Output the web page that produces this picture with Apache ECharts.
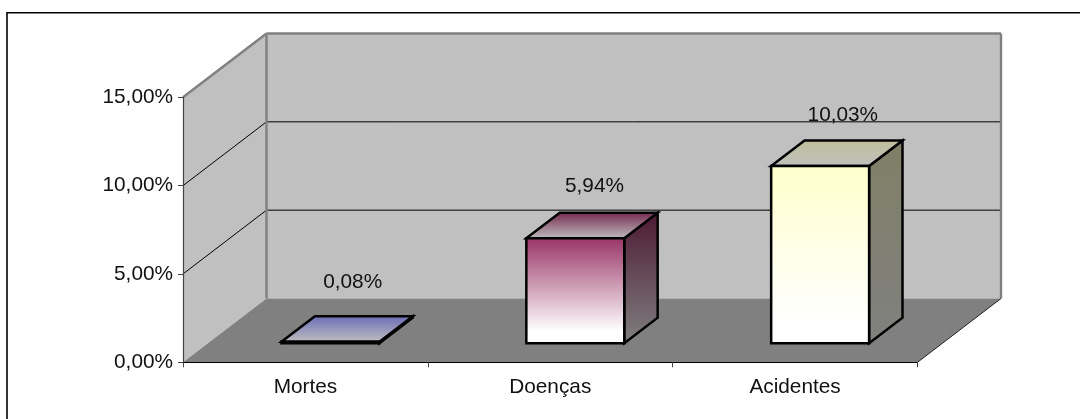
<!DOCTYPE html>
<html><head><meta charset="utf-8">
<style>html,body{margin:0;padding:0;background:#fff}#c{width:1080px;height:419px}</style>
<script src="https://cdn.jsdelivr.net/npm/echarts@6/dist/echarts.min.js"></script>
</head><body><div id="c"></div>
<script>
const categories = ['Mortes', 'Doenças', 'Acidentes'];
const values = [0.08, 5.94, 10.03];
const valueLabels = ['0,08%', '5,94%', '10,03%'];
const gridTicks = [5, 10];
const faceFront = [['#9999ee', '#c8c8d8'], ['#993366', '#ffffff'], ['#ffffcc', '#ffffff']];
const faceTop = [['#6a6ab8', '#c0c0c0'], ['#73264d', '#c0c0c0'], ['#bfbf99', '#c0c0c0']];
const faceSide = [['#4d4d80', '#808080'], ['#4d1933', '#808080'], ['#808066', '#808080']];
const labelNudge = [[5.5, -46.5], [2.5, -39.5], [6, -38]];

const DX = 83.5, DY = -63.8;
const font = '"Liberation Sans", Arial, sans-serif';
const fs = 20.8;
function grad(c, end) { return { type: 'linear', x: 0, y: 0, x2: 0, y2: 1, colorStops: [{ offset: 0, color: c[0] }, { offset: end || 1, color: c[1] }, { offset: 1, color: c[1] }] }; }
function poly(pts, fill, stroke, lw) {
  return { type: 'polygon', shape: { points: pts }, style: { fill: fill, stroke: stroke || null, lineWidth: lw || 0, lineJoin: 'miter' } };
}
function line(a, b, stroke, lw) {
  return { type: 'line', shape: { x1: a[0], y1: a[1], x2: b[0], y2: b[1] }, style: { stroke: stroke, lineWidth: lw, fill: null } };
}

function renderWalls(params, api) {
  const w = api.size([1, 0])[0];
  const x0 = api.coord([0, 0])[0] - w / 2, x1 = api.coord([2, 0])[0] + w / 2;
  const y0 = api.coord([0, 0])[1], y15 = api.coord([0, 15])[1];
  const o = (x, y) => [x + DX, y + DY];
  const kids = [
    poly([o(x0, y0), o(x0, y15), o(x1, y15), o(x1, y0)], '#c0c0c0'),
    poly([[x0, y0], [x0, y15], o(x0, y15), o(x0, y0)], '#c0c0c0'),
    poly([[x0, y0], [x1, y0], o(x1, y0), o(x0, y0)], '#808080')
  ];
  gridTicks.forEach(t => {
    const y = api.coord([0, t])[1];
    kids.push(line([x0, y], o(x0, y), '#000', 1));
    kids.push(line(o(x0, y), o(x1, y), '#000', 1));
  });
  kids.push(line([x0, y15], o(x0, y15), '#808080', 2.4));
  kids.push(line(o(x0, y15), o(x1, y15), '#808080', 2.4));
  kids.push(line(o(x0, y15), o(x0, y0), '#808080', 2.4));
  kids.push(line(o(x1, y15), o(x1, y0), '#808080', 2.4));
  kids.push(line([x1, y0], o(x1, y0), '#222', 1));
  return { type: 'group', children: kids };
}

function renderBar(params, api) {
  const i = api.value(0), v = api.value(1);
  const w = api.size([1, 0])[0], cx = api.coord([i, 0])[0];
  const b = api.coord([i, 0])[1], t = api.coord([i, v])[1];
  const xl = cx - 0.2 * w, xr = cx + 0.2 * w;
  const P = (x, y, d) => [x + DX * d, y + DY * d];
  const lw = 2.5;
  const fl = P(xl, t, 0.3), fr = P(xr, t, 0.3), bl = P(xl, t, 0.7), br = P(xr, t, 0.7);
  const gl = P(xl, b, 0.3), gr = P(xr, b, 0.3), gbr = P(xr, b, 0.7);
  const n = labelNudge[i];
  return { type: 'group', children: [
    poly([gr, fr, br, gbr], grad(faceSide[i]), '#000', lw),
    poly([fl, bl, br, fr], grad(faceTop[i]), '#000', lw),
    poly([gl, fl, fr, gr], grad(faceFront[i], 0.88), '#000', lw),
    { type: 'text', style: { text: valueLabels[i], x: (fl[0] + br[0]) / 2 + n[0], y: (fl[1] + br[1]) / 2 + n[1], align: 'center', verticalAlign: 'middle', font: fs + 'px ' + font, fill: '#111' } }
  ] };
}

const chart = echarts.init(document.getElementById('c'), null, { renderer: 'canvas' });
chart.setOption({
  animation: false,
  backgroundColor: '#fff',
  graphic: [
    { type: 'line', silent: true, z: -1, shape: { x1: 7, y1: 12.8, x2: 1080, y2: 12.8 }, style: { stroke: '#000', lineWidth: 1.6 } },
    { type: 'line', silent: true, z: -1, shape: { x1: 7, y1: 12, x2: 7, y2: 419 }, style: { stroke: '#000', lineWidth: 1.6 } }
  ],
  grid: { left: 183, right: 162.5, top: 97.3, bottom: 56.7 },
  xAxis: {
    type: 'category', data: categories, z: 5,
    axisLine: { lineStyle: { color: '#000', width: 1.2 } },
    axisTick: { show: true, alignWithLabel: false, length: 5, lineStyle: { color: '#444', width: 1 } },
    axisLabel: { color: '#111', fontFamily: font, fontSize: fs, margin: 14 }
  },
  yAxis: {
    type: 'value', min: 0, max: 15, interval: 5, z: 5,
    axisLine: { show: true, lineStyle: { color: '#444', width: 1.2 } },
    axisTick: { show: true, length: 5, lineStyle: { color: '#444', width: 1 } },
    splitLine: { show: false },
    axisLabel: { color: '#111', fontFamily: font, fontSize: fs, margin: 10, padding: [2, 0, 0, 0], formatter: v => v.toFixed(2).replace('.', ',') + '%' }
  },
  series: [
    { type: 'custom', z: 1, clip: false, silent: true, renderItem: renderWalls, data: [[0, 0]], encode: { x: 0, y: 1 } },
    { type: 'custom', z: 2, clip: false, silent: true, renderItem: renderBar, data: values.map((v, i) => [i, v]), encode: { x: 0, y: 1 } }
  ]
});
</script></body></html>
